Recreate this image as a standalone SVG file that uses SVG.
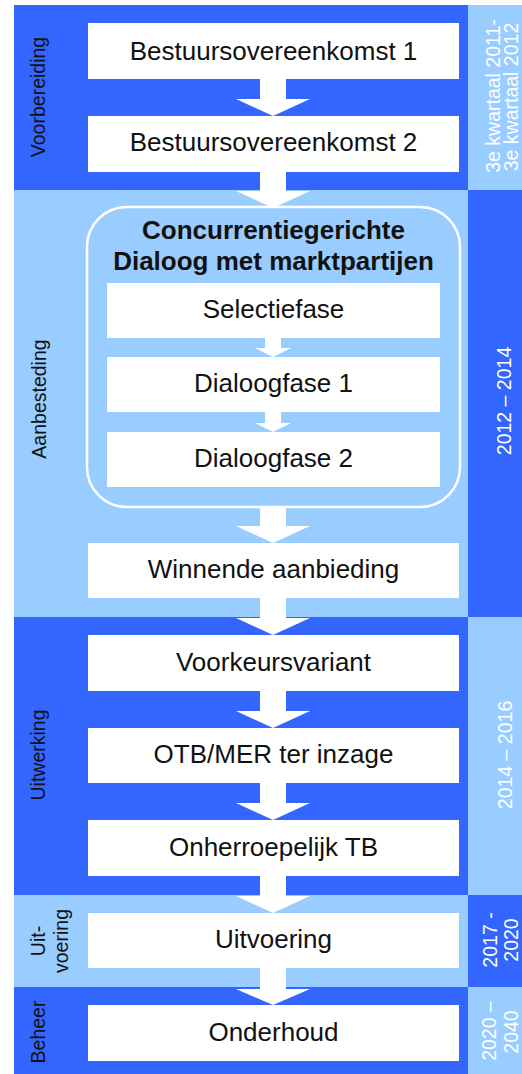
<svg xmlns="http://www.w3.org/2000/svg" width="522" height="1074" viewBox="0 0 522 1074">
<style>
.dk{fill:#3366FF}
.lt{fill:#99CCFF}
.box{fill:#FFFFFF}
.arr{fill:#FFFFFF}
.t{font-family:"Liberation Sans",Arial,sans-serif;font-size:26px;fill:#111111;text-anchor:middle}
.tb{font-family:"Liberation Sans",Arial,sans-serif;font-size:26px;font-weight:bold;fill:#111111;text-anchor:middle}
.sl{font-family:"Liberation Sans",Arial,sans-serif;font-size:19.5px;fill:#111111;text-anchor:middle}
.sr{font-family:"Liberation Sans",Arial,sans-serif;font-size:19.5px;fill:#FFFFFF;text-anchor:middle}
</style>
<rect x="0" y="0" width="522" height="1074" fill="#FFFFFF"/>
<g id="bands">
<rect class="dk" x="14" y="5" width="454" height="185"/>
<rect class="lt" x="468" y="5" width="54" height="185"/>
<rect class="lt" x="14" y="190" width="454" height="427"/>
<rect class="dk" x="468" y="190" width="54" height="427"/>
<rect class="dk" x="14" y="617" width="454" height="278"/>
<rect class="lt" x="468" y="617" width="54" height="278"/>
<rect class="lt" x="14" y="895" width="454" height="92"/>
<rect class="dk" x="468" y="895" width="54" height="92"/>
<rect class="dk" x="14" y="987" width="454" height="87"/>
<rect class="lt" x="468" y="987" width="54" height="87"/>
</g>
<g id="phase-labels">
<text class="sl" transform="translate(45,97) rotate(-90)">Voorbereiding</text>
<text class="sl" transform="translate(46,399) rotate(-90)">Aanbesteding</text>
<text class="sl" transform="translate(45,755) rotate(-90)">Uitwerking</text>
<text class="sl" transform="translate(45,941) rotate(-90)">Uit-</text>
<text class="sl" transform="translate(68,941) rotate(-90)">voering</text>
<text class="sl" transform="translate(45,1032) rotate(-90)">Beheer</text>
</g>
<g id="period-labels">
<text class="sr" transform="translate(500,96) rotate(-90)">3e kwartaal 2011-</text>
<text class="sr" transform="translate(518,97) rotate(-90)">3e kwartaal 2012</text>
<text class="sr" transform="translate(511,401) rotate(-90)">2012 – 2014</text>
<text class="sr" transform="translate(512,755) rotate(-90)">2014 – 2016</text>
<text class="sr" transform="translate(497,940) rotate(-90)">2017 -</text>
<text class="sr" transform="translate(518,940) rotate(-90)">2020</text>
<text class="sr" transform="translate(496,1031) rotate(-90)">2020 –</text>
<text class="sr" transform="translate(518,1032) rotate(-90)">2040</text>
</g>
<g id="node-bo1"><rect class="box" x="88" y="23" width="371" height="56"/><text class="t" x="273.5" y="59.5">Bestuursovereenkomst 1</text></g>
<g id="node-bo2"><rect class="box" x="88" y="116" width="371" height="56"/><text class="t" x="273.5" y="151">Bestuursovereenkomst 2</text></g>
<g id="node-cd"><rect x="87" y="207" width="373" height="300" rx="40" ry="40" fill="#99CCFF" stroke="#FFFFFF" stroke-width="2.5"/><text class="tb" x="273.5" y="238.5">Concurrentiegerichte</text><text class="tb" x="273.5" y="269.5">Dialoog met marktpartijen</text></g>
<g id="node-sel"><rect class="box" x="107" y="283" width="333" height="55"/><text class="t" x="273.5" y="318">Selectiefase</text></g>
<g id="node-d1"><rect class="box" x="107" y="357" width="333" height="55"/><text class="t" x="273.5" y="392">Dialoogfase 1</text></g>
<g id="node-d2"><rect class="box" x="107" y="432" width="333" height="55"/><text class="t" x="273.5" y="466.5">Dialoogfase 2</text></g>
<g id="node-win"><rect class="box" x="88" y="543" width="371" height="55"/><text class="t" x="273.5" y="577.5">Winnende aanbieding</text></g>
<g id="node-vkv"><rect class="box" x="88" y="635" width="371" height="56"/><text class="t" x="273.5" y="670.5">Voorkeursvariant</text></g>
<g id="node-otb"><rect class="box" x="88" y="728" width="371" height="55"/><text class="t" x="273.5" y="763">OTB/MER ter inzage</text></g>
<g id="node-otb2"><rect class="box" x="88" y="820" width="371" height="56"/><text class="t" x="273.5" y="855.5">Onherroepelijk TB</text></g>
<g id="node-uitv"><rect class="box" x="88" y="913" width="371" height="55"/><text class="t" x="273.5" y="948">Uitvoering</text></g>
<g id="node-ond"><rect class="box" x="88" y="1005" width="371" height="56"/><text class="t" x="273.5" y="1041">Onderhoud</text></g>
<g id="connectors">
<path class="arr" d="M260,79 H286 V99 H310 L273,116 L236,99 H260 Z"/>
<path class="arr" d="M260,172 H286 V191 H310 L273,208 L236,191 H260 Z"/>
<path class="arr" d="M265,338 H281 V348 H291 L273,357 L255,348 H265 Z"/>
<path class="arr" d="M265,412 H281 V423 H291 L273,432 L255,423 H265 Z"/>
<path class="arr" d="M260,508 H286 V526 H310 L273,543 L236,526 H260 Z"/>
<path class="arr" d="M260,598 H286 V618 H310 L273,635 L236,618 H260 Z"/>
<path class="arr" d="M260,691 H286 V711 H310 L273,728 L236,711 H260 Z"/>
<path class="arr" d="M260,783 H286 V803 H310 L273,820 L236,803 H260 Z"/>
<path class="arr" d="M260,876 H286 V896 H310 L273,913 L236,896 H260 Z"/>
<path class="arr" d="M260,968 H286 V989 H310 L273,1005 L236,989 H260 Z"/>
</g>
</svg>
